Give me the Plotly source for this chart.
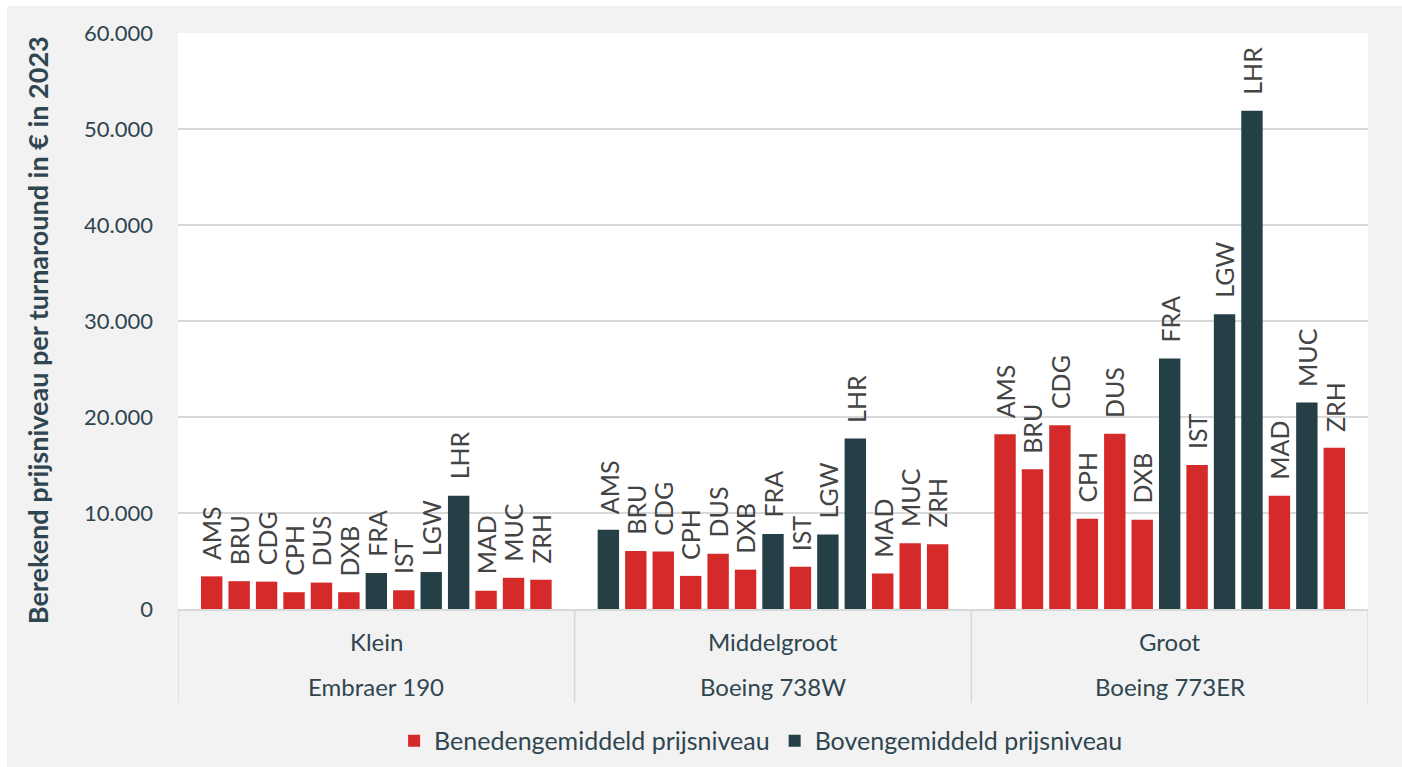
import plotly.graph_objects as go

# ---------------- data ----------------
airports = ["AMS", "BRU", "CDG", "CPH", "DUS", "DXB", "FRA", "IST", "LGW", "LHR", "MAD", "MUC", "ZRH"]
size_classes = ["Klein", "Middelgroot", "Groot"]
aircraft = ["Embraer 190", "Boeing 738W", "Boeing 773ER"]

klein = [3400, 2900, 2850, 1750, 2750, 1750, 3750, 1950, 3850, 11800, 1900, 3250, 3050]
middelgroot = [8250, 6050, 6000, 3450, 5750, 4100, 7800, 4400, 7750, 17750, 3700, 6850, 6750]
groot = [18200, 14550, 19150, 9400, 18250, 9300, 26100, 15000, 30700, 51900, 11800, 21500, 16800]

# 1 = bovengemiddeld (above average), 0 = benedengemiddeld (below average)
level_klein = [0, 0, 0, 0, 0, 0, 1, 0, 1, 1, 0, 0, 0]
level_middelgroot = [1, 0, 0, 0, 0, 0, 1, 0, 1, 1, 0, 0, 0]
level_groot = [0, 0, 0, 0, 0, 0, 1, 0, 1, 1, 0, 1, 0]

series_names = ["Benedengemiddeld prijsniveau", "Bovengemiddeld prijsniveau"]
y_ticks = [0, 10000, 20000, 30000, 40000, 50000, 60000]
y_title = "Berekend prijsniveau per turnaround in € in 2023"

# ---------------- styling ----------------
RED = "#d42a2a"
DARK = "#243f46"
TXT = "#2f4650"
LBL = "#444444"
GRID = "#d9d9d9"
FONT = "Lato"

values = [klein, middelgroot, groot]
levels = [level_klein, level_middelgroot, level_groot]

margin_slots = 1.2285
G = len(airports) - 1 + 2 * margin_slots  # group span in slot units

xs = {0: [], 1: []}
ys = {0: [], 1: []}
all_x, all_y, all_t = [], [], []
for g in range(len(size_classes)):
    for i, ap in enumerate(airports):
        x = g * G + i
        lv = levels[g][i]
        xs[lv].append(x)
        ys[lv].append(values[g][i])
        all_x.append(x)
        all_y.append(values[g][i])
        all_t.append(ap)

fig = go.Figure()
for lv, color in [(0, RED), (1, DARK)]:
    fig.add_trace(go.Bar(
        x=xs[lv], y=ys[lv], name=series_names[lv],
        marker=dict(color=color, line=dict(width=0)),
        width=0.78, hoverinfo="y",
    ))

annotations = []
for x, y, t in zip(all_x, all_y, all_t):
    annotations.append(dict(
        x=x, y=y, xref="x", yref="y", text=t, showarrow=False,
        textangle=-90, yanchor="bottom", xanchor="center", yshift=14,
        font=dict(family=FONT, size=25, color=LBL),
    ))

x_left = -margin_slots
x_right = (len(size_classes) - 1) * G + len(airports) - 1 + margin_slots

shapes = []
for g in range(len(size_classes) + 1):
    xb = g * G - margin_slots
    shapes.append(dict(type="line", xref="x", yref="paper", x0=xb, x1=xb,
                       y0=0, y1=-0.163, line=dict(color=GRID, width=1.5)))
for g in range(len(size_classes)):
    xc = g * G + (len(airports) - 1) / 2
    annotations.append(dict(x=xc, y=-0.0556, xref="x", yref="paper",
                            text=size_classes[g], showarrow=False,
                            yanchor="middle",
                            font=dict(family=FONT, size=24, color=TXT)))
    annotations.append(dict(x=xc, y=-0.135, xref="x", yref="paper",
                            text=aircraft[g], showarrow=False,
                            yanchor="middle",
                            font=dict(family=FONT, size=24, color=TXT)))

# y-axis title
annotations.append(dict(x=-0.1185, y=0.484, xref="paper", yref="paper",
                        text="<b>" + y_title + "</b>", showarrow=False,
                        textangle=-90, xanchor="center", yanchor="middle",
                        font=dict(family=FONT, size=27, color=TXT)))

# thin white border at top / left of the image
shapes.append(dict(type="rect", xref="paper", yref="paper", x0=-0.2, x1=1.1,
                   y0=1.046875, y1=1.1, fillcolor="white", line=dict(width=0), layer="above"))
shapes.append(dict(type="rect", xref="paper", yref="paper", x0=-0.2, x1=-0.1437,
                   y0=-0.4, y1=1.1, fillcolor="white", line=dict(width=0), layer="above"))

fig.update_layout(
    width=1402, height=767,
    margin=dict(l=178, r=34, t=33, b=158),
    paper_bgcolor="#f2f2f2", plot_bgcolor="white",
    separators=",.",
    font=dict(family=FONT, size=21, color=TXT),
    barmode="overlay",
    showlegend=True,
    legend=dict(orientation="h", x=0.49, xanchor="center",
                yref="container", y=0.0339, yanchor="middle",
                font=dict(family=FONT, size=25, color=TXT), bgcolor="rgba(0,0,0,0)",
                traceorder="normal"),
    xaxis=dict(range=[x_left, x_right], showticklabels=False, showgrid=False,
               zeroline=False, showline=True, linecolor=GRID, linewidth=1.5,
               fixedrange=True),
    yaxis=dict(range=[0, 60000], tickvals=y_ticks, tickformat=",d",
               showgrid=True, gridcolor=GRID, gridwidth=1.5,
               zeroline=False, showline=False, ticks="",
               ticklabelstandoff=24, automargin=False,
               tickfont=dict(family=FONT, size=22, color=TXT)),
    annotations=annotations,
    shapes=shapes,
)

fig.write_html("out.html", config={"displayModeBar": False},
               post_script="document.body.style.margin='0';document.body.style.overflow='hidden';")
